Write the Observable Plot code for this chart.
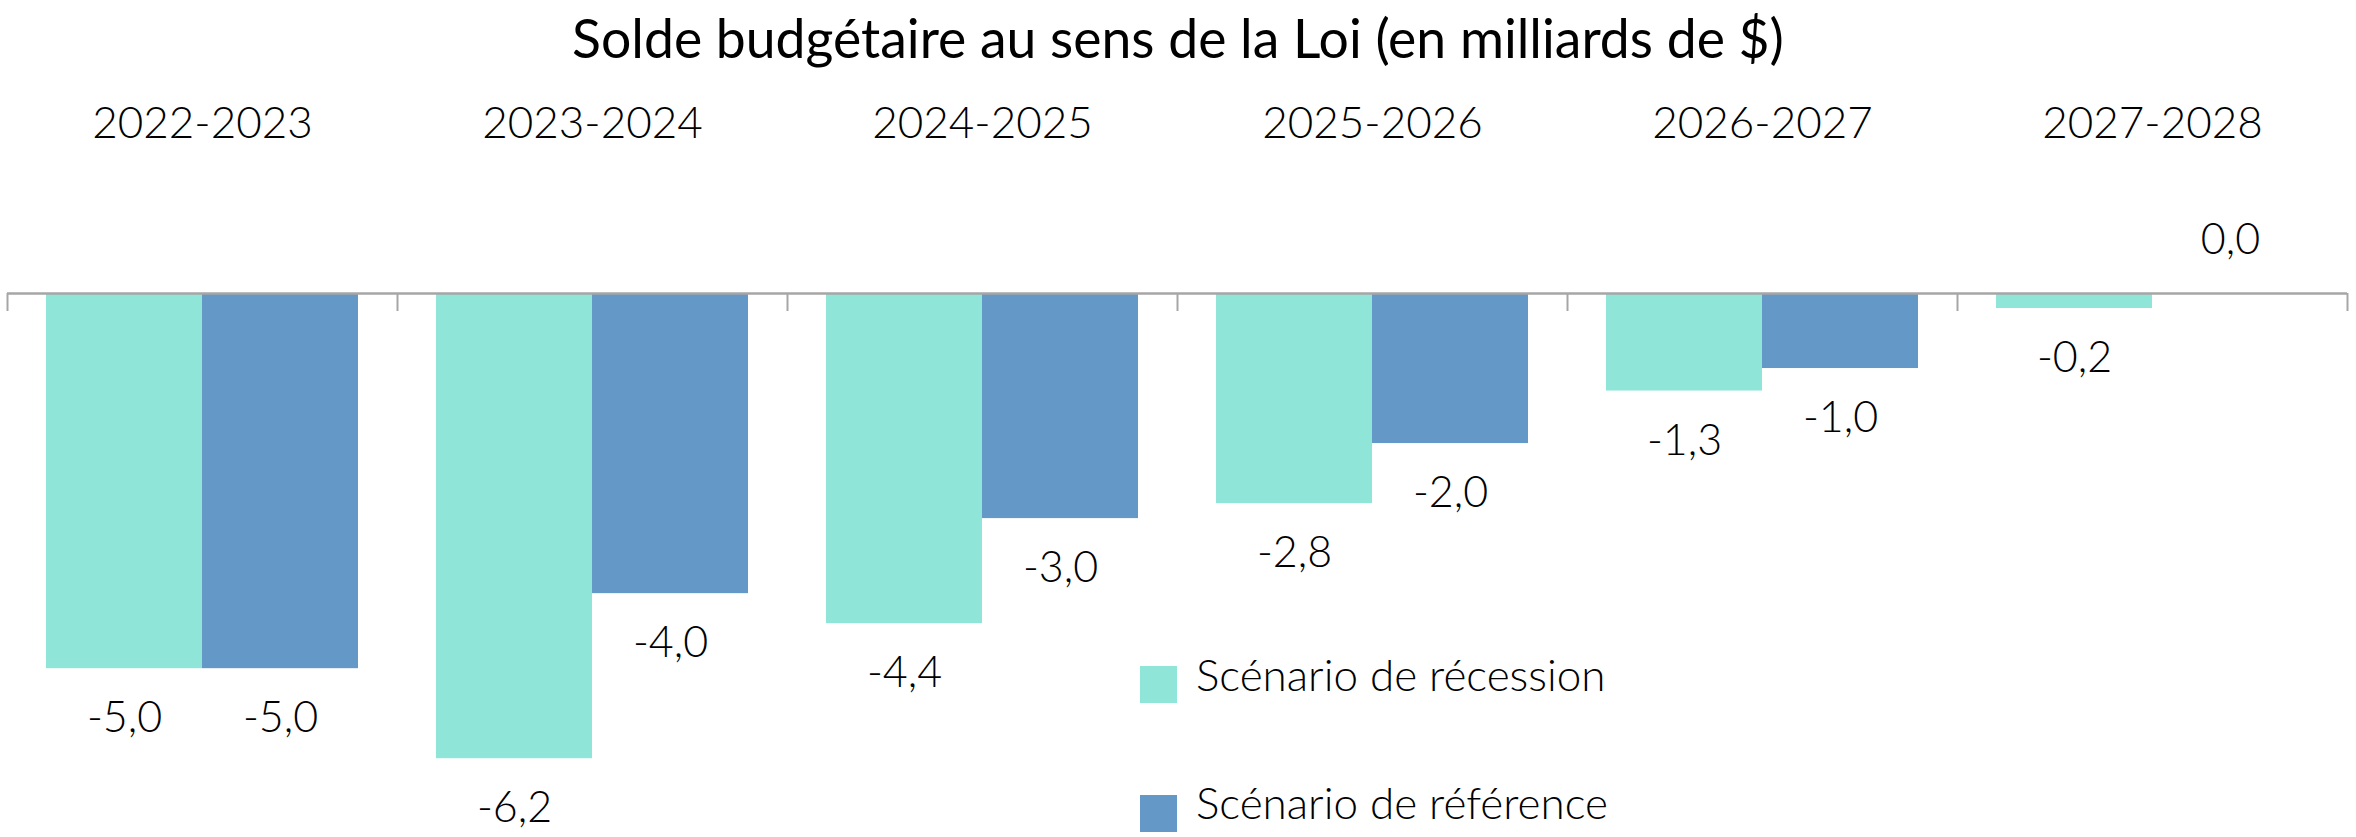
<!DOCTYPE html>
<html><head><meta charset="utf-8">
<script src="https://cdn.jsdelivr.net/npm/d3@7"></script>
<script src="https://cdn.jsdelivr.net/npm/@observablehq/plot@0.6"></script>
<style>
body{margin:0;background:#fff;font-family:Lato, sans-serif;color:#000;}
#wrap{position:relative;width:2356px;height:837px;overflow:hidden;}
#title{height:80px;line-height:74px;text-align:center;font-size:53.5px;white-space:nowrap;}
.sw{position:absolute;width:37px;height:37px;}
.lt{position:absolute;font-size:44px;line-height:44px;font-weight:300;white-space:nowrap;}
</style></head><body>
<div id="wrap">
<div id="title">Solde budgétaire au sens de la Loi (en milliards de $)</div>
<div id="chart"></div>
<div id="legend"></div>
</div>
<script>
const years = ["2022-2023", "2023-2024", "2024-2025", "2025-2026", "2026-2027", "2027-2028"];
const recession = [-5.0, -6.2, -4.4, -2.8, -1.3, -0.2];
const reference = [-5.0, -4.0, -3.0, -2.0, -1.0, 0.0];
const seriesNames = ["Scénario de récession", "Scénario de référence"];
const colors = ["#8ee5d8", "#6398c7"];

const rows = years.flatMap((y, i) => [
  {year: y, series: seriesNames[0], value: recession[i]},
  {year: y, series: seriesNames[1], value: reference[i]}
]);

const W = 2356, H = 837 - 80;
const ml = 7, mr = 9, mt = 213, mb = 0;
const band = (W - ml - mr) / years.length;
const yMin = -7.25;
const pxPerUnit = (H - mt - mb) / (0 - yMin);
const tickLen = 18 / pxPerUnit;
const fmt = v => v.toFixed(1).replace(".", ",");
const gray = "#a6a6a6";

const chart = Plot.plot({
  width: W, height: H,
  marginLeft: ml, marginRight: mr, marginTop: mt, marginBottom: mb,
  style: {fontFamily: "Lato, sans-serif", fontSize: "43px", fontWeight: 300, color: "#000", background: "transparent", overflow: "visible"},
  fx: {domain: years, padding: 0, axis: null},
  x: {domain: seriesNames, paddingInner: 0, paddingOuter: 0.25, axis: null},
  y: {domain: [yMin, 0], axis: null},
  color: {domain: seriesNames, range: colors},
  marks: [
    Plot.barY(rows, {fx: "year", x: "series", y: "value", fill: "series"}),
    Plot.ruleY([0], {stroke: gray, strokeWidth: 2.5}),
    Plot.ruleX(years, {fx: d => d, x: null, y1: 0, y2: -tickLen, dx: -band / 2, stroke: gray, strokeWidth: 2}),
    Plot.ruleX([years[years.length - 1]], {fx: d => d, x: null, y1: 0, y2: -tickLen, dx: band / 2, stroke: gray, strokeWidth: 2}),
    Plot.text(rows.filter(d => d.value < 0), {fx: "year", x: "series", y: "value", text: d => fmt(d.value), dy: 50, fill: "#000"}),
    Plot.text(rows.filter(d => d.value >= 0), {fx: "year", x: "series", y: "value", text: d => fmt(d.value), dy: -53, fill: "#000"}),
    Plot.text(years, {fx: d => d, text: d => d, frameAnchor: "top", lineAnchor: "middle", dy: -170, fontSize: 44, fill: "#000"})
  ]
});
document.getElementById("chart").appendChild(chart);

const legend = document.getElementById("legend");
const swTops = [666, 795];
const textTops = [652, 780];
seriesNames.forEach((name, i) => {
  const sw = document.createElement("div");
  sw.className = "sw";
  sw.style.left = "1140px";
  sw.style.top = swTops[i] + "px";
  sw.style.background = colors[i];
  const t = document.createElement("div");
  t.className = "lt";
  t.style.left = "1196px";
  t.style.top = textTops[i] + "px";
  t.textContent = name;
  legend.appendChild(sw);
  legend.appendChild(t);
});
</script>
</body></html>
